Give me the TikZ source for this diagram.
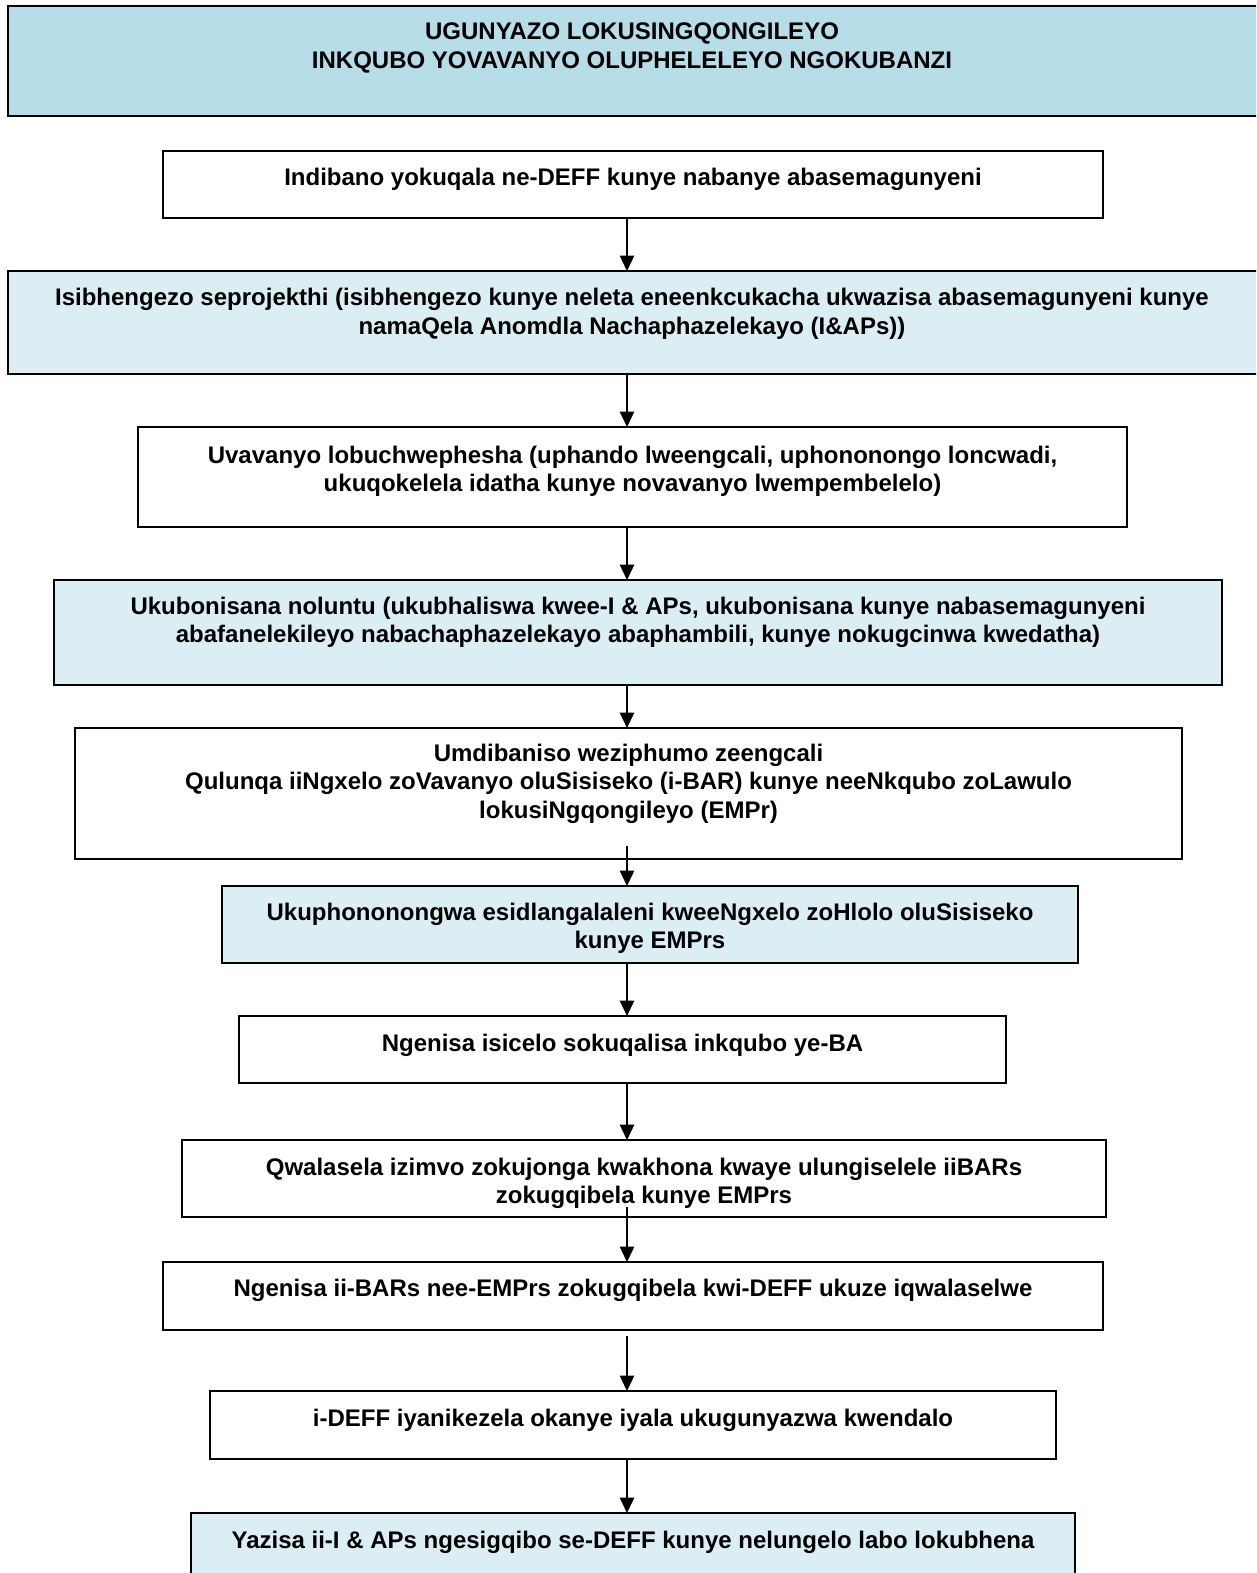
\documentclass[tikz,border=0pt]{standalone}
\usepackage{fontspec}
\setmainfont{Liberation Sans}
\usetikzlibrary{arrows.meta}
\definecolor{titleblue}{HTML}{B7DDE8}
\definecolor{lightblue}{HTML}{DAEEF3}
\begin{document}
\begin{tikzpicture}[x=1pt,y=-1pt,
  flowbox/.style={draw=black,line width=1.6pt,rectangle,inner sep=0pt,outer sep=0pt,anchor=north west},
  ftxt/.style={anchor=north,inner sep=0pt,align=center,font=\fontsize{24}{28.5}\selectfont\bfseries},
  arr/.style={draw=black,line width=1.3pt,-{Triangle[width=14.5pt,length=15.5pt]}}]
\clip (0,0) rectangle (1256,1573);
\fill[white] (0,0) rectangle (1256,1573);
% boxes
\node[flowbox,fill=titleblue,minimum width=1254,minimum height=110] (T) at (8,6) {};
\node[flowbox,fill=white,minimum width=940,minimum height=67] (A) at (163,151) {};
\node[flowbox,fill=lightblue,minimum width=1254,minimum height=103] (B) at (8,271) {};
\node[flowbox,fill=white,minimum width=989,minimum height=100] (C) at (138,427) {};
\node[flowbox,fill=lightblue,minimum width=1168,minimum height=105] (D) at (54,580) {};
\node[flowbox,fill=white,minimum width=1107,minimum height=131] (E) at (75,728) {};
\node[flowbox,fill=lightblue,minimum width=856,minimum height=77] (F) at (222,886) {};
\node[flowbox,fill=white,minimum width=767,minimum height=67] (G) at (239,1016) {};
\node[flowbox,fill=white,minimum width=924,minimum height=77] (H) at (182,1140) {};
\node[flowbox,fill=white,minimum width=940,minimum height=68] (I) at (163,1262) {};
\node[flowbox,fill=white,minimum width=846,minimum height=68] (J) at (210,1391) {};
\node[flowbox,fill=lightblue,minimum width=884,minimum height=90] (K) at (191,1513) {};
% texts
\node[ftxt] (tT) at (632,23) {UGUNYAZO LOKUSINGQONGILEYO\\INKQUBO YOVAVANYO OLUPHELELEYO NGOKUBANZI};
\node[ftxt] (tA) at (633,168) {Indibano yokuqala ne-DEFF kunye nabanye abasemagunyeni};
\node[ftxt] (tB) at (632,288) {Isibhengezo seprojekthi (isibhengezo kunye neleta eneenkcukacha ukwazisa abasemagunyeni kunye\\namaQela Anomdla Nachaphazelekayo (I\&APs))};
\node[ftxt] (tC) at (632.5,445.5) {Uvavanyo lobuchwephesha (uphando lweengcali, uphononongo loncwadi,\\ukuqokelela idatha kunye novavanyo lwempembelelo)};
\node[ftxt] (tD) at (638,596.5) {Ukubonisana noluntu (ukubhaliswa kwee-I \& APs, ukubonisana kunye nabasemagunyeni\\abafanelekileyo nabachaphazelekayo abaphambili, kunye nokugcinwa kwedatha)};
\node[ftxt] (tE) at (628.5,743.5) {Umdibaniso weziphumo zeengcali\\Qulunqa iiNgxelo zoVavanyo oluSisiseko (i-BAR) kunye neeNkqubo zoLawulo\\lokusiNgqongileyo (EMPr)};
\node[ftxt] (tF) at (650,902.5) {Ukuphononongwa esidlangalaleni kweeNgxelo zoHlolo oluSisiseko\\kunye EMPrs};
\node[ftxt] (tG) at (622.5,1034) {Ngenisa isicelo sokuqalisa inkqubo ye-BA};
\node[ftxt] (tH) at (644,1157.5) {Qwalasela izimvo zokujonga kwakhona kwaye ulungiselele iiBARs\\zokugqibela kunye EMPrs};
\node[ftxt] (tI) at (633,1279) {Ngenisa ii-BARs nee-EMPrs zokugqibela kwi-DEFF ukuze iqwalaselwe};
\node[ftxt] (tJ) at (633,1409) {i-DEFF iyanikezela okanye iyala ukugunyazwa kwendalo};
\node[ftxt] (tK) at (633,1531) {Yazisa ii-I \& APs ngesigqibo se-DEFF kunye nelungelo labo lokubhena};
% connectors
\coordinate (ax) at (627,0);
\coordinate (eS) at ([yshift=13pt]E.south);
\coordinate (hS) at ([yshift=10pt]H.south);
\coordinate (iS) at ([yshift=-6pt]I.south);
\draw[arr] (A.south -| ax) -- (B.north -| ax);
\draw[arr] (B.south -| ax) -- (C.north -| ax);
\draw[arr] (C.south -| ax) -- (D.north -| ax);
\draw[arr] (D.south -| ax) -- (E.north -| ax);
\draw[arr] (eS -| ax) -- (F.north -| ax);
\draw[arr] (F.south -| ax) -- (G.north -| ax);
\draw[arr] (G.south -| ax) -- (H.north -| ax);
\draw[arr] (hS -| ax) -- (I.north -| ax);
\draw[arr] (iS -| ax) -- (J.north -| ax);
\draw[arr] (J.south -| ax) -- (K.north -| ax);
\end{tikzpicture}
\end{document}
